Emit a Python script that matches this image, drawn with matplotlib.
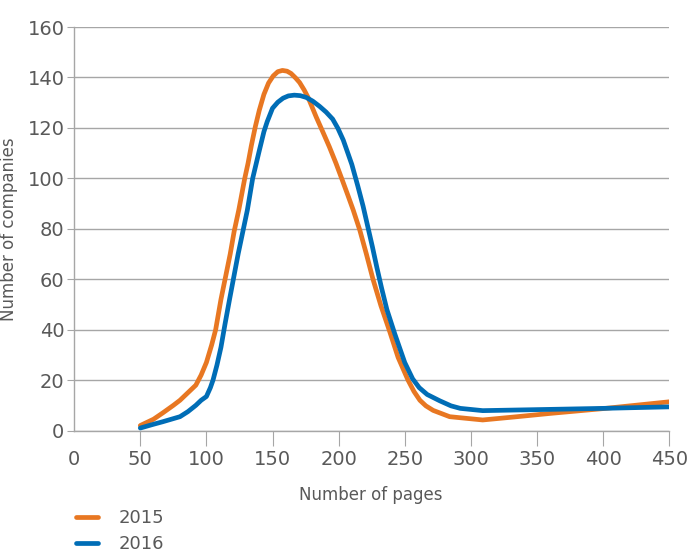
import matplotlib
matplotlib.use("Agg")
import matplotlib.pyplot as plt

# values
pages_2015 = [50, 60, 67, 75, 80, 85, 92, 96, 100, 104, 107, 111, 114.5, 118, 121, 124.5, 129,
              131.5, 134, 137, 140, 143.5, 147, 150.5, 154, 157.5, 161, 164, 167.5, 170.5, 174,
              177, 183, 188, 193, 198, 203, 207, 211, 216, 221, 226, 232, 238.5, 245, 252.5,
              257, 261.5, 266, 271.5, 284, 309, 335, 360, 400, 450]
companies_2015 = [2, 4.5, 7, 10, 12, 14.5, 18, 22, 27, 34, 40, 52, 61, 70, 79, 87.5, 100,
                  106, 113, 120.5, 127, 133.3, 137.8, 140.6, 142.3, 142.8, 142.5, 141.6, 139.8, 138, 135,
                  132, 124.4, 118.5, 112.5, 106, 99, 93.3, 87.5, 79.5, 70, 60, 49.5, 39.5, 29, 20,
                  15.5, 12, 9.8, 8, 5.5, 4.2, 5.5, 6.8, 8.7, 11.4]

pages_2016 = [50, 60, 67, 80, 86, 92, 96, 100, 103, 105, 108, 111, 114, 117.5, 124, 131, 135,
              140, 143.5, 146, 150, 154, 158, 162, 166.5, 171, 175.5, 180.5, 185.5, 190.5, 195.5,
              199.5, 203.5, 207, 210, 214.5, 218.5, 222, 225.5, 229, 232.5, 236.5, 242.5, 250,
              256, 261, 267, 276.5, 285, 292, 309, 360, 400, 450]
companies_2016 = [1, 2.5, 3.5, 5.5, 7.5, 10, 12, 13.5, 17, 20, 26, 33, 42, 52, 70, 87.5, 100,
                  111, 118.5, 122.5, 127.8, 130.2, 131.8, 132.7, 133, 132.8, 132.1, 130.6, 128.6, 126.3, 123.5,
                  119.8, 115.2, 110, 105.5, 97, 89, 81, 73, 64.5, 56.5, 48, 38.3, 27,
                  20.5, 17, 14.3, 11.8, 9.8, 8.8, 7.9, 8.4, 8.8, 9.4]

x_ticks = list(range(0, 451, 50))
y_ticks = list(range(0, 161, 20))

orange = "#E87722"
blue = "#006DB6"
grid_col = "#A6A6A6"
text_col = "#595959"

plt.rcParams["font.family"] = ["Liberation Sans Narrow", "DejaVu Sans"]

fig = plt.figure(figsize=(6.87, 5.52), dpi=100)
ax = fig.add_axes([0.108, 0.22, 0.866, 0.731])

ax.plot(pages_2015, companies_2015, color=orange, lw=3.4, solid_capstyle="round",
        solid_joinstyle="round", label="2015", zorder=3)
ax.plot(pages_2016, companies_2016, color=blue, lw=3.4, solid_capstyle="round",
        solid_joinstyle="round", label="2016", zorder=4)

ax.set_xlim(0, 450)
ax.set_ylim(0, 160)
ax.set_xticks(x_ticks)
ax.set_yticks(y_ticks)
ax.yaxis.grid(True, color=grid_col, lw=1)
ax.set_axisbelow(True)

for side in ["top", "right"]:
    ax.spines[side].set_visible(False)
for side in ["left", "bottom"]:
    ax.spines[side].set_color(grid_col)
    ax.spines[side].set_linewidth(1)

ax.tick_params(axis="x", length=11, color=grid_col, labelcolor=text_col, labelsize=14, pad=3)
ax.tick_params(axis="y", length=5, color=grid_col, labelcolor=text_col, labelsize=14, pad=2)
ax.xaxis.get_major_ticks()[0].tick1line.set_visible(False)

ax.set_xlabel("Number of pages", fontsize=12, color=text_col)
ax.set_ylabel("Number of companies", fontsize=12, color=text_col)
ax.xaxis.set_label_coords(0.499, -0.138)
ax.yaxis.set_label_coords(-0.094, 0.5)

fig.legend(loc="upper left", bbox_to_anchor=(0.098, 0.094), frameon=False, fontsize=13,
           borderpad=0, handlelength=1.2, handletextpad=1.15, labelspacing=0.45,
           labelcolor=text_col)

fig.savefig("out.png", dpi=100)
